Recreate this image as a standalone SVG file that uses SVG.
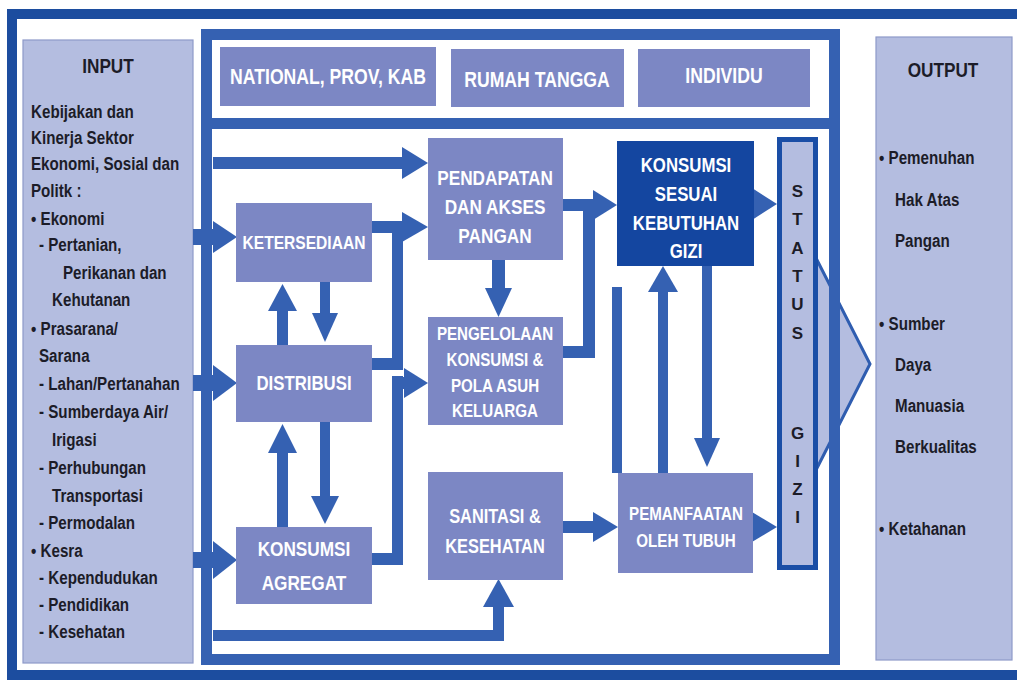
<svg xmlns="http://www.w3.org/2000/svg" width="1017" height="681" viewBox="0 0 1017 681">
<style>
text{font-family:"Liberation Sans",Arial,sans-serif;font-weight:bold}
.side{fill:#b4bde0;stroke:#8e99c9;stroke-width:1.2}
.node{fill:#7c87c4}
.wt{fill:#ffffff;text-anchor:middle}
.bt{fill:#1c1c28;font-size:18.5px}
.c{fill:#3561b2}
.st{fill:#1c1c28;font-size:17px;text-anchor:middle}
</style>
<rect width="1017" height="681" fill="#ffffff"/>
<rect x="12" y="14" width="1020" height="661" fill="none" stroke="#1c4d9f" stroke-width="10"/>

<g id="input">
<rect class="side" x="23" y="40" width="170" height="623"/>
<text transform="matrix(.82 0 0 1 108 73)" font-size="21" fill="#1c1c28" text-anchor="middle">INPUT</text>
<text class="bt" transform="matrix(.82 0 0 1 31 118)">Kebijakan dan</text>
<text class="bt" transform="matrix(.82 0 0 1 31 144)">Kinerja Sektor</text>
<text class="bt" transform="matrix(.82 0 0 1 31 170)">Ekonomi, Sosial dan</text>
<text class="bt" transform="matrix(.82 0 0 1 31 197)">Politk :</text>
<text class="bt" transform="matrix(.82 0 0 1 31 225)">• Ekonomi</text>
<text class="bt" transform="matrix(.82 0 0 1 39 251)">-  Pertanian,</text>
<text class="bt" transform="matrix(.82 0 0 1 63 279)">Perikanan dan</text>
<text class="bt" transform="matrix(.82 0 0 1 52 306)">Kehutanan</text>
<text class="bt" transform="matrix(.82 0 0 1 31 335)">• Prasarana/</text>
<text class="bt" transform="matrix(.82 0 0 1 39 362)">Sarana</text>
<text class="bt" transform="matrix(.82 0 0 1 39 390)">-  Lahan/Pertanahan</text>
<text class="bt" transform="matrix(.82 0 0 1 39 418)">-  Sumberdaya Air/</text>
<text class="bt" transform="matrix(.82 0 0 1 52 446)">Irigasi</text>
<text class="bt" transform="matrix(.82 0 0 1 39 474)">-  Perhubungan</text>
<text class="bt" transform="matrix(.82 0 0 1 52 502)">Transportasi</text>
<text class="bt" transform="matrix(.82 0 0 1 39 529)">-  Permodalan</text>
<text class="bt" transform="matrix(.82 0 0 1 31 557)">• Kesra</text>
<text class="bt" transform="matrix(.82 0 0 1 39 584)">-  Kependudukan</text>
<text class="bt" transform="matrix(.82 0 0 1 39 611)">-  Pendidikan</text>
<text class="bt" transform="matrix(.82 0 0 1 39 638)">-  Kesehatan</text>
</g>

<g id="output">
<rect class="side" x="876" y="37" width="136" height="623"/>
<text transform="matrix(.82 0 0 1 943 77)" font-size="21" fill="#1c1c28" text-anchor="middle">OUTPUT</text>
<text class="bt" transform="matrix(.82 0 0 1 879 164)">• Pemenuhan</text>
<text class="bt" transform="matrix(.82 0 0 1 895 206)">Hak Atas</text>
<text class="bt" transform="matrix(.82 0 0 1 895 247)">Pangan</text>
<text class="bt" transform="matrix(.82 0 0 1 879 330)">• Sumber</text>
<text class="bt" transform="matrix(.82 0 0 1 895 371)">Daya</text>
<text class="bt" transform="matrix(.82 0 0 1 895 412)">Manuasia</text>
<text class="bt" transform="matrix(.82 0 0 1 895 453)">Berkualitas</text>
<text class="bt" transform="matrix(.82 0 0 1 879 535)">• Ketahanan</text>
</g>

<g id="status-chevron">
<polygon points="816,258 870,364 816,470" fill="#b4bde0" stroke="#2f5db0" stroke-width="3"/>
</g>

<g id="frame">
<rect x="206.5" y="34.5" width="628" height="625" fill="none" stroke="#3561b2" stroke-width="11"/>
<rect x="201" y="118" width="639" height="11" fill="#3561b2"/>
</g>

<g id="level-national">
<rect class="node" x="220" y="47" width="216" height="59"/>
<text class="wt" transform="matrix(.82 0 0 1 328 84)" font-size="21.5">NATIONAL, PROV, KAB</text>
</g>
<g id="level-rumah-tangga">
<rect class="node" x="451" y="49" width="173" height="58"/>
<text class="wt" transform="matrix(.82 0 0 1 537 87)" font-size="21.5">RUMAH TANGGA</text>
</g>
<g id="level-individu">
<rect class="node" x="638" y="49" width="172" height="58"/>
<text class="wt" transform="matrix(.82 0 0 1 724 83)" font-size="21.5">INDIVIDU</text>
</g>

<g id="connectors">
<rect class="c" x="213" y="157" width="192" height="12"/>
<polygon class="c" points="402,147 428,163 402,179"/>
<rect class="c" x="193" y="229" width="22" height="16"/>
<polygon class="c" points="213,221 237,237 213,253"/>
<rect class="c" x="193" y="375" width="22" height="16"/>
<polygon class="c" points="213,365 237,383 213,401"/>
<rect class="c" x="193" y="552" width="22" height="16"/>
<polygon class="c" points="213,541 237,560 213,579"/>
<rect class="c" x="372" y="221" width="33" height="12"/>
<polygon class="c" points="402,212 428,227 402,242"/>
<rect class="c" x="372" y="358" width="31" height="12"/>
<rect class="c" x="392" y="221" width="11" height="149"/>
<rect class="c" x="372" y="553" width="31" height="12"/>
<rect class="c" x="392" y="376" width="11" height="189"/>
<rect class="c" x="392" y="377" width="14" height="12"/>
<polygon class="c" points="404,368 428,383 404,398"/>
<rect class="c" x="277" y="309" width="11" height="36"/>
<polygon class="c" points="268,311 282.5,284 297,311"/>
<rect class="c" x="320" y="282" width="10" height="33"/>
<polygon class="c" points="312,313 325,342 338,313"/>
<rect class="c" x="277" y="451" width="11" height="76"/>
<polygon class="c" points="268,453 282.5,424 297,453"/>
<rect class="c" x="320" y="422" width="10" height="76"/>
<polygon class="c" points="311,496 325,524 339,496"/>
<rect class="c" x="492" y="260" width="13" height="30"/>
<polygon class="c" points="485,288 498.5,317 512,288"/>
<rect class="c" x="563" y="199" width="32" height="12"/>
<polygon class="c" points="593,190 617,205 593,220"/>
<rect class="c" x="563" y="346" width="32" height="12"/>
<rect class="c" x="583" y="199" width="12" height="159"/>
<rect class="c" x="563" y="521" width="32" height="12"/>
<polygon class="c" points="593,512 618,527 593,542"/>
<polygon class="c" points="752,188 777,204 752,220"/>
<polygon class="c" points="752,512 777,527 752,542"/>
<rect class="c" x="612" y="287" width="10" height="186"/>
<rect class="c" x="658" y="290" width="10" height="192"/>
<polygon class="c" points="648,292 663,266 678,292"/>
<rect class="c" x="702" y="263" width="10" height="177"/>
<polygon class="c" points="694,438 707,467 720,438"/>
<rect class="c" x="213" y="630" width="291" height="11"/>
<rect class="c" x="493" y="605" width="11" height="36"/>
<polygon class="c" points="483,607 498.5,579 514,607"/>
</g>

<g id="ketersediaan">
<rect class="node" x="236" y="203" width="136" height="79"/>
<text class="wt" transform="matrix(.82 0 0 1 304 249)" font-size="19">KETERSEDIAAN</text>
</g>
<g id="distribusi">
<rect class="node" x="236" y="345" width="136" height="77"/>
<text class="wt" transform="matrix(.82 0 0 1 304 390)" font-size="20.5">DISTRIBUSI</text>
</g>
<g id="konsumsi-agregat">
<rect class="node" x="236" y="527" width="136" height="77"/>
<text class="wt" transform="matrix(.82 0 0 1 304 556)" font-size="21">KONSUMSI</text>
<text class="wt" transform="matrix(.82 0 0 1 304 590)" font-size="21">AGREGAT</text>
</g>
<g id="pendapatan">
<rect class="node" x="428" y="138" width="135" height="122"/>
<text class="wt" transform="matrix(.82 0 0 1 495 185)" font-size="21">PENDAPATAN</text>
<text class="wt" transform="matrix(.82 0 0 1 495 214)" font-size="21">DAN AKSES</text>
<text class="wt" transform="matrix(.82 0 0 1 495 243)" font-size="21">PANGAN</text>
</g>
<g id="pengelolaan">
<rect class="node" x="428" y="317" width="135" height="108"/>
<text class="wt" transform="matrix(.82 0 0 1 495 340)" font-size="18.5">PENGELOLAAN</text>
<text class="wt" transform="matrix(.82 0 0 1 495 366)" font-size="18.5">KONSUMSI &amp;</text>
<text class="wt" transform="matrix(.82 0 0 1 495 392)" font-size="18.5">POLA ASUH</text>
<text class="wt" transform="matrix(.82 0 0 1 495 417)" font-size="18.5">KELUARGA</text>
</g>
<g id="sanitasi">
<rect class="node" x="428" y="472" width="135" height="108"/>
<text class="wt" transform="matrix(.82 0 0 1 495 523)" font-size="20">SANITASI &amp;</text>
<text class="wt" transform="matrix(.82 0 0 1 495 553)" font-size="20">KESEHATAN</text>
</g>
<g id="konsumsi-sesuai">
<rect x="617" y="141" width="137" height="125" fill="#1446a0"/>
<text class="wt" transform="matrix(.82 0 0 1 686 172)" font-size="20.5">KONSUMSI</text>
<text class="wt" transform="matrix(.82 0 0 1 686 201)" font-size="20.5">SESUAI</text>
<text class="wt" transform="matrix(.82 0 0 1 686 230)" font-size="20.5">KEBUTUHAN</text>
<text class="wt" transform="matrix(.82 0 0 1 686 258)" font-size="20.5">GIZI</text>
</g>
<g id="pemanfaatan">
<rect class="node" x="618" y="473" width="135" height="100"/>
<text class="wt" transform="matrix(.82 0 0 1 686 520)" font-size="18.5">PEMANFAATAN</text>
<text class="wt" transform="matrix(.82 0 0 1 686 547)" font-size="18.5">OLEH TUBUH</text>
</g>
<g id="status-gizi">
<rect x="779.5" y="139.5" width="36" height="428" fill="#b4bde0" stroke="#1a4ea6" stroke-width="5"/>
<text class="st" x="797.5" y="197">S</text>
<text class="st" x="797.5" y="225">T</text>
<text class="st" x="797.5" y="254">A</text>
<text class="st" x="797.5" y="282">T</text>
<text class="st" x="797.5" y="310">U</text>
<text class="st" x="797.5" y="339">S</text>
<text class="st" x="797.5" y="439">G</text>
<text class="st" x="797.5" y="467">I</text>
<text class="st" x="797.5" y="495">Z</text>
<text class="st" x="797.5" y="523">I</text>
</g>
</svg>
